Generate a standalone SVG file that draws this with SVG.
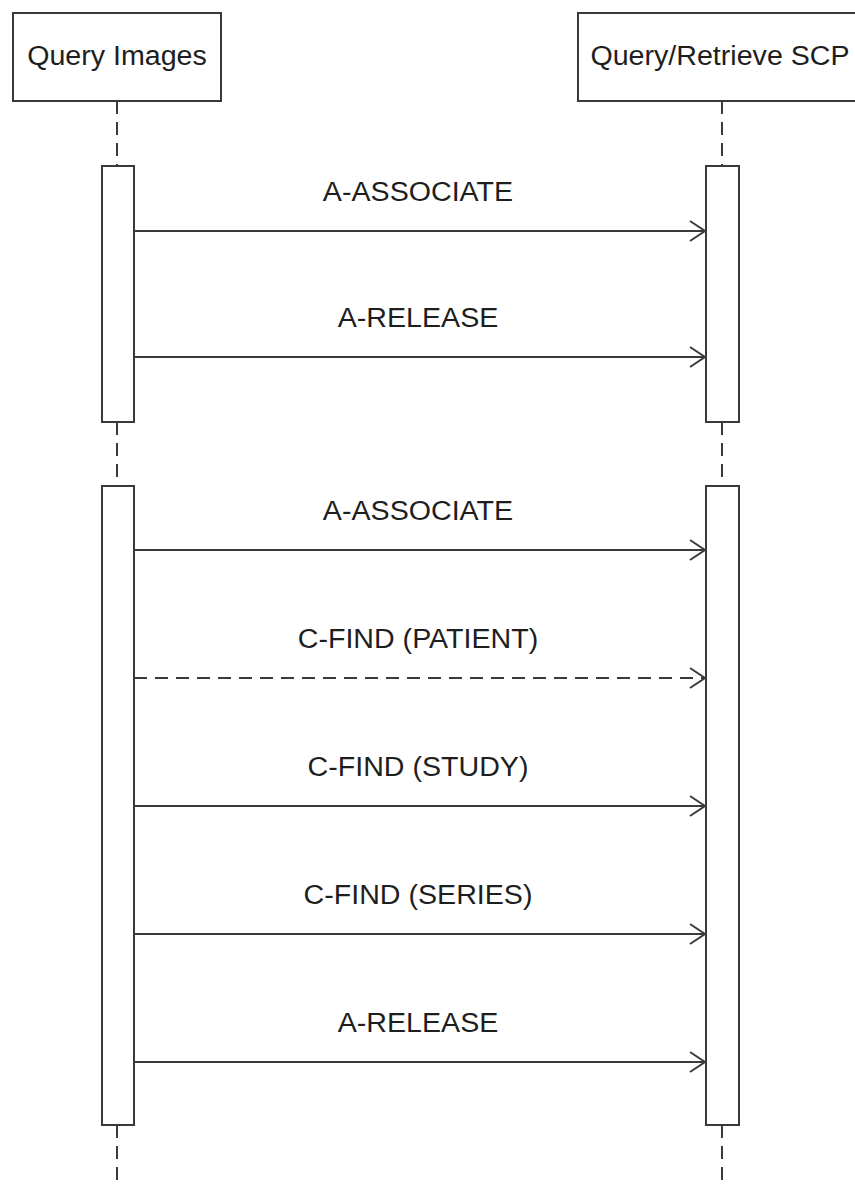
<svg xmlns="http://www.w3.org/2000/svg" width="855" height="1187" viewBox="0 0 855 1187">
<style>
.box{fill:#fff;stroke:#3a3a3a;stroke-width:2}
.life{stroke:#3a3a3a;stroke-width:2;stroke-dasharray:13 8;fill:none}
.msg{stroke:#3a3a3a;stroke-width:2;fill:none}
.dash{stroke-dasharray:13 8}
.head{stroke:#3a3a3a;stroke-width:2;fill:none}
text{font-family:"Liberation Sans",Arial,sans-serif;font-size:27px;fill:#1e1e1e;text-anchor:middle}
</style>
<rect width="855" height="1187" fill="#fff"/>
<g id="lifelines">
<line class="life" x1="117" y1="101" x2="117" y2="166"/>
<line class="life" x1="117" y1="422" x2="117" y2="486"/>
<line class="life" x1="117" y1="1125" x2="117" y2="1187"/>
<line class="life" x1="722" y1="101" x2="722" y2="166"/>
<line class="life" x1="722" y1="422" x2="722" y2="486"/>
<line class="life" x1="722" y1="1125" x2="722" y2="1187"/>
</g>
<g id="node-query-images">
<rect class="box" x="13" y="13" width="208" height="88"/>
<text x="117" y="65" transform="translate(117,0) scale(1.06,1) translate(-117,0)">Query Images</text>
</g>
<g id="node-qr-scp">
<rect class="box" x="578" y="13" width="290" height="88"/>
<text x="720" y="65" transform="translate(720,0) scale(1.06,1) translate(-720,0)">Query/Retrieve SCP</text>
</g>
<g id="act-left-1"><rect class="box" x="102" y="166" width="32" height="256"/></g>
<g id="act-right-1"><rect class="box" x="706" y="166" width="33" height="256"/></g>
<g id="act-left-2"><rect class="box" x="102" y="486" width="32" height="639"/></g>
<g id="act-right-2"><rect class="box" x="706" y="486" width="33" height="639"/></g>
<g id="connectors">
<line class="msg" x1="134" y1="231" x2="705" y2="231"/>
<polyline class="head" points="690,221 705,231 690,241"/>
<line class="msg" x1="134" y1="357" x2="705" y2="357"/>
<polyline class="head" points="690,347 705,357 690,367"/>
<line class="msg" x1="134" y1="550" x2="705" y2="550"/>
<polyline class="head" points="690,540 705,550 690,560"/>
<line class="msg dash" x1="134" y1="678" x2="705" y2="678"/>
<polyline class="head" points="690,668 705,678 690,688"/>
<line class="msg" x1="134" y1="806" x2="705" y2="806"/>
<polyline class="head" points="690,796 705,806 690,816"/>
<line class="msg" x1="134" y1="934" x2="705" y2="934"/>
<polyline class="head" points="690,924 705,934 690,944"/>
<line class="msg" x1="134" y1="1062" x2="705" y2="1062"/>
<polyline class="head" points="690,1052 705,1062 690,1072"/>
</g>
<g id="labels" transform="translate(418,0) scale(1.06,1) translate(-418,0)">
<text x="418" y="201">A-ASSOCIATE</text>
<text x="418" y="327">A-RELEASE</text>
<text x="418" y="520">A-ASSOCIATE</text>
<text x="418" y="648">C-FIND (PATIENT)</text>
<text x="418" y="776">C-FIND (STUDY)</text>
<text x="418" y="904">C-FIND (SERIES)</text>
<text x="418" y="1032">A-RELEASE</text>
</g>
</svg>
